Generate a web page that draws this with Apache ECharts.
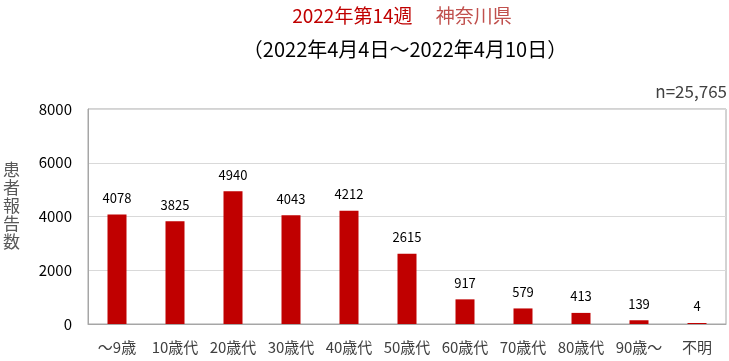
<!DOCTYPE html>
<html><head><meta charset="utf-8">
<script src="https://cdn.jsdelivr.net/npm/echarts@6/dist/echarts.min.js"></script>
<style>html,body{margin:0;padding:0;background:#fff}#c{width:729px;height:361px}</style>
</head><body><div id="c"></div>
<script>
const categories = ['～9歳','10歳代','20歳代','30歳代','40歳代','50歳代','60歳代','70歳代','80歳代','90歳～','不明'];
const values = [4078,3825,4940,4043,4212,2615,917,579,413,139,4];
const yTicks = [0,2000,4000,6000,8000];
const titleA = '2022年第14週';
const titleB = '神奈川県';
const subtitleText = '（2022年4月4日～2022年4月10日）';
const totalText = 'n=25,765';
const yName = '患者報告数';

const font = '"Noto Sans CJK JP", "Noto Sans", sans-serif';
const chart = echarts.init(document.getElementById('c'), null, {renderer:'canvas'});
chart.setOption({
  animation: false,
  textStyle: {fontFamily: font},
  grid: {left: 88, right: 3, top: 109, bottom: 37, show: true, borderColor: '#a6a6a6', borderWidth: 1},
  graphic: [
    {type: 'text', x: 402, y: 16, style: {
      text: '{a|' + titleA + '}　 {b|' + titleB + '}', align: 'center', verticalAlign: 'middle',
      font: '19px ' + font,
      rich: {a: {fill: '#c00000', font: '19px ' + font}, b: {fill: '#c0504d', font: '19px ' + font}}
    }},
    {type: 'text', x: 405, y: 49, style: {
      text: subtitleText, align: 'center', verticalAlign: 'middle', fill: '#000', font: '20px ' + font
    }},
    {type: 'text', x: 727, y: 92, style: {
      text: totalText, align: 'right', verticalAlign: 'middle', fill: '#404040', font: '17px ' + font
    }},
    {type: 'text', left: 3, top: 161, style: {
      text: yName.split('').join('\n'), fill: '#595959', font: '17px ' + font, lineHeight: 18
    }}
  ],
  xAxis: {
    type: 'category', data: categories,
    axisLine: {lineStyle: {color: '#a6a6a6'}},
    axisTick: {show: false},
    axisLabel: {color: '#404040', fontSize: 15, margin: 16, interval: 0, fontFamily: font}
  },
  yAxis: {
    type: 'value', min: yTicks[0], max: yTicks[yTicks.length-1], interval: 2000,
    axisLine: {show: true, lineStyle: {color: '#a6a6a6'}},
    axisTick: {show: false},
    axisLabel: {color: '#000', fontSize: 15, margin: 16, fontFamily: font, formatter: v => String(v)},
    splitLine: {lineStyle: {color: '#d9d9d9'}}
  },
  series: [{
    type: 'bar', data: values, barWidth: 19, barMinHeight: 1,
    itemStyle: {color: '#c00000'},
    label: {show: true, position: 'top', distance: 10, color: '#000', fontSize: 13, fontFamily: font}
  }]
});
</script></body></html>
